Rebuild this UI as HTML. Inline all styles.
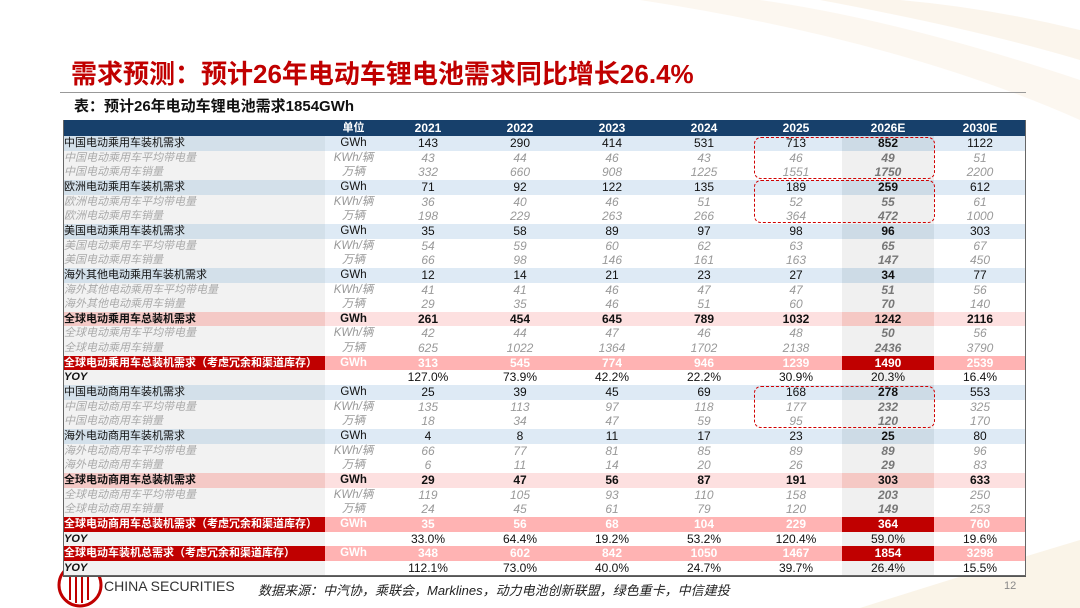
<!DOCTYPE html>
<html><head><meta charset="utf-8">
<style>
body{margin:0;width:1080px;height:608px;overflow:hidden;background:#fff;font-family:"Liberation Sans","Noto Sans CJK SC",sans-serif;position:relative}
#bg{position:absolute;left:0;top:0}
.abs{position:absolute}
.cell{position:absolute;box-sizing:border-box;white-space:nowrap;overflow:hidden;font-size:12px;line-height:14.65px;text-align:center}
</style></head><body>
<svg id="bg" width="1080" height="608">
<path d="M640 0 Q900 40 1080 120 L1080 80 Q900 20 760 0Z" fill="#f7ecd9" opacity="0.4"/>
<path d="M820 0 Q980 30 1080 60 L1080 30 Q990 8 900 0Z" fill="#f3e3c8" opacity="0.35"/>
<path d="M860 608 Q980 570 1080 540 L1080 608Z" fill="#f5e6cc" opacity="0.45"/>
<circle cx="80" cy="585" r="21" fill="none" stroke="#c00000" stroke-width="3"/>
<g stroke="#c00000" stroke-width="2"><line x1="70" y1="570" x2="70" y2="600"/><line x1="76" y1="568" x2="76" y2="603"/><line x1="82" y1="568" x2="82" y2="603"/><line x1="88" y1="570" x2="88" y2="600"/></g>
</svg>
<div class="abs" style="left:71px;top:54px;font-size:26px;font-weight:bold;color:#c00000;font-family:'Liberation Sans','Noto Sans CJK SC',sans-serif">需求预测：预计26年电动车锂电池需求同比增长26.4%</div>
<div class="abs" style="left:60px;top:92px;width:966px;height:1px;background:#999"></div>
<div class="abs" style="left:74px;top:95px;font-size:15px;font-weight:bold;color:#111">表：预计26年电动车锂电池需求1854GWh</div>
<div id="tbl"></div>
<div class="abs" style="left:104px;top:578px;font-size:14px;color:#333">CHINA SECURITIES</div>
<div class="abs" style="left:258px;top:580px;font-size:13px;font-style:italic;color:#222">数据来源：中汽协，乘联会，Marklines，动力电池创新联盟，绿色重卡，中信建投</div>
<div class="abs" style="left:1004px;top:580px;font-size:11px;color:#888">12</div>
<script>
const years=["2021","2022","2023","2024","2025","2026E","2030E"];
const labels=["中国电动乘用车装机需求","中国电动乘用车平均带电量","中国电动乘用车销量","欧洲电动乘用车装机需求","欧洲电动乘用车平均带电量","欧洲电动乘用车销量","美国电动乘用车装机需求","美国电动乘用车平均带电量","美国电动乘用车销量","海外其他电动乘用车装机需求","海外其他电动乘用车平均带电量","海外其他电动乘用车销量","全球电动乘用车总装机需求","全球电动乘用车平均带电量","全球电动乘用车销量","全球电动乘用车总装机需求（考虑冗余和渠道库存）","YOY","中国电动商用车装机需求","中国电动商用车平均带电量","中国电动商用车销量","海外电动商用车装机需求","海外电动商用车平均带电量","海外电动商用车销量","全球电动商用车总装机需求","全球电动商用车平均带电量","全球电动商用车销量","全球电动商用车总装机需求（考虑冗余和渠道库存）","YOY","全球电动车装机总需求（考虑冗余和渠道库存）","YOY"];
const units=["GWh","KWh/辆","万辆","GWh","KWh/辆","万辆","GWh","KWh/辆","万辆","GWh","KWh/辆","万辆","GWh","KWh/辆","万辆","GWh","","GWh","KWh/辆","万辆","GWh","KWh/辆","万辆","GWh","KWh/辆","万辆","GWh","","GWh",""];
const kinds=["m","s","s","m","s","s","m","s","s","m","s","s","t","s","s","r","y","m","s","s","m","s","s","t","s","s","r","y","r","y"];
const values=[
["143","290","414","531","713","852","1122"],["43","44","46","43","46","49","51"],["332","660","908","1225","1551","1750","2200"],
["71","92","122","135","189","259","612"],["36","40","46","51","52","55","61"],["198","229","263","266","364","472","1000"],
["35","58","89","97","98","96","303"],["54","59","60","62","63","65","67"],["66","98","146","161","163","147","450"],
["12","14","21","23","27","34","77"],["41","41","46","47","47","51","56"],["29","35","46","51","60","70","140"],
["261","454","645","789","1032","1242","2116"],["42","44","47","46","48","50","56"],["625","1022","1364","1702","2138","2436","3790"],
["313","545","774","946","1239","1490","2539"],["127.0%","73.9%","42.2%","22.2%","30.9%","20.3%","16.4%"],
["25","39","45","69","168","278","553"],["135","113","97","118","177","232","325"],["18","34","47","59","95","120","170"],
["4","8","11","17","23","25","80"],["66","77","81","85","89","89","96"],["6","11","14","20","26","29","83"],
["29","47","56","87","191","303","633"],["119","105","93","110","158","203","250"],["24","45","61","79","120","149","253"],
["35","56","68","104","229","364","760"],["33.0%","64.4%","19.2%","53.2%","120.4%","59.0%","19.6%"],
["348","602","842","1050","1467","1854","3298"],["112.1%","73.0%","40.0%","24.7%","39.7%","26.4%","15.5%"]];
const highlightBoxes=[[0,2],[3,5],[17,19]];

const T=document.getElementById('tbl');
const X0=63,LW=262,UW=57,CW=92,TOP=120,HH=16,RH=14.65;
const colX=i=>X0+LW+UW+i*CW;
const rowY=i=>TOP+HH+i*RH;
function cell(x,y,w,h,txt,st){const d=document.createElement('div');d.className='cell';d.style.left=x+'px';d.style.top=y+'px';d.style.width=w+'px';d.style.height=h+'px';d.textContent=txt;Object.assign(d.style,st||{});T.appendChild(d);return d;}
const W=LW+UW+7*CW;
let h=cell(X0,TOP,W,HH,"",{background:"#17406b"});


let hu=cell(X0+LW,TOP,UW,HH,"单位",{color:"#fff",fontWeight:"bold",fontSize:"11px",lineHeight:HH+"px"});


years.forEach((yv,i)=>{const c=cell(colX(i),TOP,CW,HH,yv,{color:"#fff",fontWeight:"bold",lineHeight:HH+"px"});

});
const sty={
 m:{lab:"#d3e0ea",bg:"#deeaf5",hl:"#cddbe6",col:"#111",fw:"normal",fs:"normal"},
 s:{lab:"#f2f2f2",bg:"#ffffff",hl:"#f0f0f0",col:"#999",fw:"normal",fs:"italic"},
 t:{lab:"#f4c9c6",bg:"#fde0e0",hl:"#f5c8c4",col:"#111",fw:"bold",fs:"normal"},
 r:{lab:"#c00000",bg:"#ffb3b3",hl:"#c00000",col:"#fff",fw:"bold",fs:"normal"},
 y:{lab:"#f2f2f2",bg:"#ffffff",hl:"#f0f0f0",col:"#111",fw:"normal",fs:"normal"}};
labels.forEach((lab,r)=>{
 const k=kinds[r],s=sty[k],y=rowY(r);
 const row=cell(X0,y,W,RH+0.5,"",{background:s.bg});
 
 
 const lc=cell(X0,y,LW,RH+0.5,lab,{background:s.lab,textAlign:"left",paddingLeft:"1px",fontSize:"11px",color:k=="s"?"#aaa":(k=="r"?"#fff":"#111"),fontStyle:(k=="s"||k=="y")?"italic":"normal",fontWeight:(k=="t"||k=="r"||k=="y")?"bold":"normal"});
 
 
 const uc=cell(X0+LW,y,UW,RH+0.5,units[r],{fontSize:"11.5px",lineHeight:(RH+1)+"px",color:s.col=="#999"?"#999":(k=="r"?"#fff":"#111"),fontWeight:s.fw,fontStyle:s.fs});
 
 
 values[r].forEach((v,i)=>{
  const hl=i==5;
  const c=cell(colX(i),y,CW,RH+0.5,v,{background:hl?s.hl:"transparent",color:(k=="s"&&hl)?"#777":s.col,fontWeight:(hl&&k!="y")?"bold":s.fw,fontStyle:s.fs});
  
  
 });
 if(k=="y"){const ln=cell(X0,y+RH,W,1.2,"",{background:"#555"});
 
 }
});
const bd=cell(X0,TOP,W,rowY(labels.length)-TOP,"",{border:"1px solid #666",borderTop:"none",background:"transparent"});


highlightBoxes.forEach(([a,b])=>{
 const y=rowY(a)+0.5;
 const bx=cell(colX(4)+4,y,2*CW-3,rowY(b+1)-rowY(a)-1,"",{border:"1.6px dashed #d00000",borderRadius:"7px",background:"transparent"});
 
 
});
</script>
</body></html>
